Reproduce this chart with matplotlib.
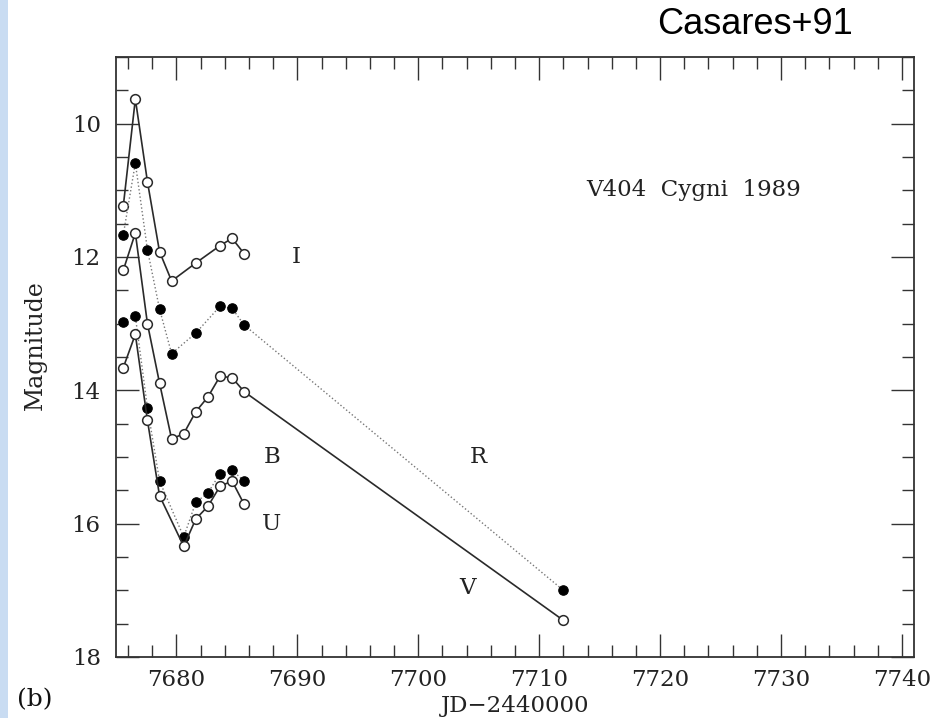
import matplotlib
matplotlib.use("Agg")
import matplotlib.pyplot as plt
from matplotlib.ticker import MultipleLocator
from matplotlib.patches import Rectangle

# ---- data (JD-2440000, magnitude) ----
jd_I = [7675.6, 7676.6, 7677.6, 7678.6, 7679.6, 7681.6, 7683.6, 7684.6, 7685.6]
mag_I = [11.24, 9.63, 10.87, 11.92, 12.36, 12.09, 11.83, 11.72, 11.95]

jd_R = [7675.6, 7676.6, 7677.6, 7678.6, 7679.6, 7681.6, 7683.6, 7684.6, 7685.6, 7712.0]
mag_R = [11.67, 10.59, 11.89, 12.78, 13.45, 13.14, 12.74, 12.77, 13.02, 17.00]

jd_V = [7675.6, 7676.6, 7677.6, 7678.6, 7679.6, 7680.6, 7681.6, 7682.6, 7683.6, 7684.6, 7685.6, 7712.0]
mag_V = [12.20, 11.64, 13.00, 13.89, 14.73, 14.65, 14.32, 14.10, 13.79, 13.81, 14.02, 17.45]

jd_B = [7675.6, 7676.6, 7677.6, 7678.6, 7680.6, 7681.6, 7682.6, 7683.6, 7684.6, 7685.6]
mag_B = [12.97, 12.89, 14.26, 15.36, 16.20, 15.68, 15.54, 15.25, 15.20, 15.36]

jd_U = [7675.6, 7676.6, 7677.6, 7678.6, 7680.6, 7681.6, 7682.6, 7683.6, 7684.6, 7685.6]
mag_U = [13.66, 13.16, 14.45, 15.58, 16.34, 15.93, 15.74, 15.44, 15.36, 15.71]

band_names = ["I", "B", "R", "U", "V"]
band_label_x = [7689.9, 7687.9, 7705.0, 7687.9, 7704.1]
band_label_y = [12.0, 15.0, 15.0, 16.0, 16.97]

x_ticks = [7680, 7690, 7700, 7710, 7720, 7730, 7740]
y_ticks = [10, 12, 14, 16, 18]

serif = "DejaVu Serif"
fig = plt.figure(figsize=(9.34, 7.18), dpi=100)
fig.patches.append(Rectangle((0, 0), 8 / 934, 1, transform=fig.transFigure,
                             facecolor="#c9dcf2", edgecolor="none"))
ax = fig.add_axes([116 / 934, 61 / 718, 798 / 934, 600 / 718])

solid = dict(color="#2a2a2a", lw=1.2, ls="-", marker="o", ms=7,
             mfc="white", mec="#2a2a2a", mew=1.1)
dotted = dict(color="#777777", lw=1.0, ls=":", marker="o", ms=6.8,
              mfc="black", mec="black", mew=0.8)

ax.plot(jd_I, mag_I, **solid)
ax.plot(jd_R, mag_R, **dotted)
ax.plot(jd_V, mag_V, **solid)
ax.plot(jd_B, mag_B, **dotted)
ax.plot(jd_U, mag_U, **solid)

for name, x, y in zip(band_names, band_label_x, band_label_y):
    ax.text(x, y, name, fontsize=16.5, family=serif, ha="center", va="center",
            color="#222222")

ax.text(7722.8, 10.99, "V404  Cygni  1989", fontsize=16.5, family=serif,
        ha="center", va="center", color="#222222")

ax.set_xlim(7675.0, 7741.0)
ax.set_ylim(18, 9)
ax.set_xticks(x_ticks)
ax.set_yticks(y_ticks)
ax.xaxis.set_minor_locator(MultipleLocator(2))
ax.yaxis.set_minor_locator(MultipleLocator(0.5))
ax.tick_params(which="both", direction="in", top=True, right=True,
               color="#333333", width=1.0)
ax.tick_params(which="major", length=16.5)
ax.tick_params(which="minor", length=8.5)
ax.tick_params(axis="x", which="major", pad=9)
ax.tick_params(axis="y", which="major", pad=11)
for lab in ax.get_xticklabels() + ax.get_yticklabels():
    lab.set_fontfamily(serif)
    lab.set_fontsize(16.5)
    lab.set_color("#222222")
for sp in ax.spines.values():
    sp.set_color("#333333")
    sp.set_linewidth(1.3)

ax.set_xlabel("JD\u22122440000", fontsize=16.5, family=serif, color="#222222")
ax.xaxis.set_label_coords(0.5, -0.063)
ax.set_ylabel("Magnitude", fontsize=17, family=serif, color="#222222")
ax.yaxis.set_label_coords(-0.086, 0.52)

fig.text(35 / 934, 1 - 700 / 718, "(b)", fontsize=18, family=serif,
         ha="center", va="center", color="#111111")
fig.text(755 / 934, 1 - 25 / 718, "Casares+91", fontsize=26,
         family="Liberation Sans", ha="center", va="center", color="black")

fig.savefig("out.png", dpi=100)
